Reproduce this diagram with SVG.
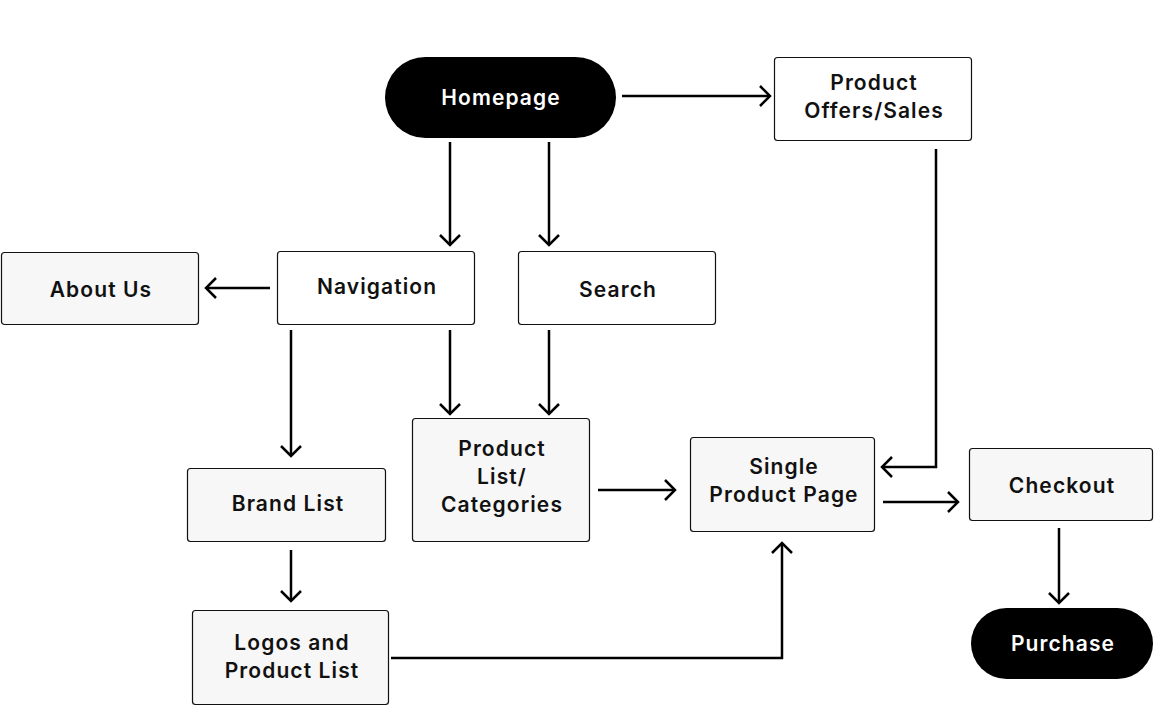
<svg xmlns="http://www.w3.org/2000/svg" width="1154" height="706" viewBox="0 0 1154 706">
<style>
.box{stroke:#111;stroke-width:1.2}
.w{fill:#fff}
.g{fill:#f7f7f7}
.pill{fill:#000}
.t{font-family:Inter,"Noto Sans",sans-serif;font-weight:600;font-size:21px;fill:#111;text-anchor:middle;letter-spacing:1.1px}
.tw{fill:#fff}
.c{fill:none;stroke:#000;stroke-width:2.5;marker-end:url(#a)}
</style>
<defs>
<marker id="a" markerUnits="userSpaceOnUse" markerWidth="24" markerHeight="24" viewBox="-12 -12 24 24" refX="0" refY="0" orient="auto" overflow="visible">
<path d="M-10,-10 L0,0 L-10,10" fill="none" stroke="#000" stroke-width="2.5"/>
</marker>
</defs>
<rect width="1154" height="706" fill="#fff"/>
<g id="connectors">
<path class="c" d="M622,96 H770"/>
<path class="c" d="M450,142 V245"/>
<path class="c" d="M549,142 V245"/>
<path class="c" d="M270,288 H206"/>
<path class="c" d="M291,330 V456"/>
<path class="c" d="M450,330 V414"/>
<path class="c" d="M549,330 V414"/>
<path class="c" d="M936,149 V467 H882"/>
<path class="c" d="M598,490 H675"/>
<path class="c" d="M883,502 H958"/>
<path class="c" d="M1059,528 V603"/>
<path class="c" d="M291,550 V601"/>
<path class="c" d="M391,658 H782 V543"/>
</g>
<g id="homepage">
<rect class="pill" x="385" y="57" width="231" height="81" rx="40.5"/>
<text class="t tw" x="501" y="105">Homepage</text>
</g>
<g id="offers">
<rect class="box w" x="774.5" y="57.5" width="197" height="83" rx="3"/>
<text class="t" x="874" y="90">Product</text>
<text class="t" x="874" y="118">Offers/Sales</text>
</g>
<g id="about">
<rect class="box g" x="1.5" y="252.5" width="197" height="72" rx="3"/>
<text class="t" x="101" y="297">About Us</text>
</g>
<g id="navigation">
<rect class="box w" x="277.5" y="251.5" width="197" height="73" rx="3"/>
<text class="t" x="377" y="294">Navigation</text>
</g>
<g id="search">
<rect class="box w" x="518.5" y="251.5" width="197" height="73" rx="3"/>
<text class="t" x="618" y="297">Search</text>
</g>
<g id="productlist">
<rect class="box g" x="412.5" y="418.5" width="177" height="123" rx="3"/>
<text class="t" x="502" y="456">Product</text>
<text class="t" x="502" y="484">List/</text>
<text class="t" x="502" y="512">Categories</text>
</g>
<g id="single">
<rect class="box g" x="690.5" y="437.5" width="184" height="94" rx="3"/>
<text class="t" x="784" y="474">Single</text>
<text class="t" x="784" y="502">Product Page</text>
</g>
<g id="checkout">
<rect class="box g" x="969.5" y="448.5" width="183" height="72" rx="3"/>
<text class="t" x="1062" y="493">Checkout</text>
</g>
<g id="purchase">
<rect class="pill" x="971" y="608" width="182" height="71" rx="35.5"/>
<text class="t tw" x="1063" y="651">Purchase</text>
</g>
<g id="brand">
<rect class="box g" x="187.5" y="468.5" width="198" height="73" rx="3"/>
<text class="t" x="288" y="511">Brand List</text>
</g>
<g id="logos">
<rect class="box g" x="192.5" y="610.5" width="196" height="94" rx="3"/>
<text class="t" x="292" y="650">Logos and</text>
<text class="t" x="292" y="678">Product List</text>
</g>
</svg>
